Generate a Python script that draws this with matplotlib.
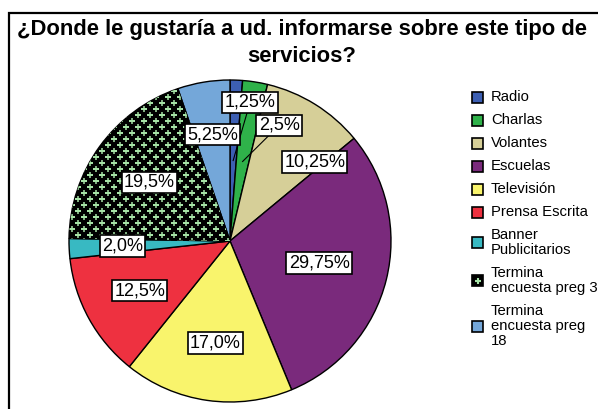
import numpy as np
import matplotlib.pyplot as plt
from matplotlib.patches import Rectangle

plt.rcParams['font.family'] = ['Liberation Sans', 'DejaVu Sans']

# datos
categorias = ['Radio', 'Charlas', 'Volantes', 'Escuelas', 'Televisión',
              'Prensa Escrita', 'Banner\nPublicitarios', 'Termina\nencuesta preg 3',
              'Termina\nencuesta preg\n18']
porcentajes = [1.25, 2.5, 10.25, 29.75, 17.0, 12.5, 2.0, 19.5, 5.25]
etiquetas = ['1,25%', '2,5%', '10,25%', '29,75%', '17,0%', '12,5%', '2,0%', '19,5%', '5,25%']
colores = ['#3d5fb3', '#2fb24a', '#d6cf98', '#7a2a7c', '#f9f46c',
           '#ee3140', '#38b9c2', '#000000', '#74a7d9']

W, H = 598, 409
fig = plt.figure(figsize=(W / 100, H / 100), dpi=100)
ax = fig.add_axes([0, 0, 1, 1])

def py(y):
    # pixel y desde arriba -> coordenada del eje
    return H - y

cx, cy, R = 230, py(241), 161

wedges, _ = ax.pie(porcentajes, colors=colores, startangle=90, counterclock=False,
                   center=(cx, cy), radius=R, frame=True,
                   wedgeprops=dict(edgecolor='black', linewidth=1))
ax.set_xlim(0, W)
ax.set_ylim(0, H)
ax.set_aspect('equal')
ax.axis('off')

# trama de cruces en "Termina encuesta preg 3"
gx, gy = np.meshgrid(np.arange(0, W, 12), np.arange(0, H, 6))
gx = gx + (np.arange(gy.shape[0])[:, None] % 2) * 6
sc = ax.scatter(gx.ravel(), gy.ravel(), marker='+', s=24, linewidths=1.1,
                color='#a6e3a6', zorder=3)
sc.set_clip_path(wedges[7])
wedges[7].set_zorder(2)

# etiquetas
ang_mid = 90 - (np.cumsum(porcentajes) - np.array(porcentajes) / 2) * 3.6
r_lbl = [0.87, 0.78, 0.72, 0.57, 0.64, 0.64, 0.67, 0.62, 0.67]
ang_lbl = ang_mid + np.array([-6, -14, -15, 0, 0, 0, 0, 0, 0])
guia = [True, True, False, False, False, False, False, False, False]
for i, txt in enumerate(etiquetas):
    a = np.radians(ang_lbl[i])
    tx, ty = cx + r_lbl[i] * R * np.cos(a), cy + r_lbl[i] * R * np.sin(a)
    if guia[i]:
        am = np.radians(ang_mid[i])
        px, pyy = cx + 0.5 * R * np.cos(am), cy + 0.5 * R * np.sin(am)
        ax.plot([px, tx], [pyy, ty], color='black', lw=0.8, zorder=4)
    ax.text(tx, ty, txt, ha='center', va='center', fontsize=13, zorder=6 + (i == 8),
            bbox=dict(boxstyle='square,pad=0.12', facecolor='white',
                      edgecolor='black', linewidth=1.2))

# leyenda
alturas = [8 + 15 * (c.count('\n') + 1) for c in categorias]
yc = 97
for i, c in enumerate(categorias):
    if i > 0:
        yc += (alturas[i - 1] + alturas[i]) / 2
    ax.add_patch(Rectangle((472, py(yc) - 5.5), 11, 11, facecolor=colores[i],
                           edgecolor='black', linewidth=1.2, zorder=5))
    if i == 7:
        ax.scatter([477.5], [py(yc)], marker='+', s=20, color='#a6e3a6', zorder=6)
    ax.text(491, py(yc), c, ha='left', va='center', fontsize=10.7,
            linespacing=1.05, zorder=5)

# titulo y marco
ax.text(302, py(30), '¿Donde le gustaría a ud. informarse sobre este tipo de',
        ha='center', va='center', fontsize=15.8, fontweight='bold')
ax.text(302, py(56), 'servicios?', ha='center', va='center', fontsize=15.8,
        fontweight='bold')
ax.add_patch(Rectangle((9, -20), 700, py(13) + 20, facecolor='none',
                       edgecolor='black', linewidth=1.6, clip_on=False))

fig.savefig('out.png', dpi=100)
